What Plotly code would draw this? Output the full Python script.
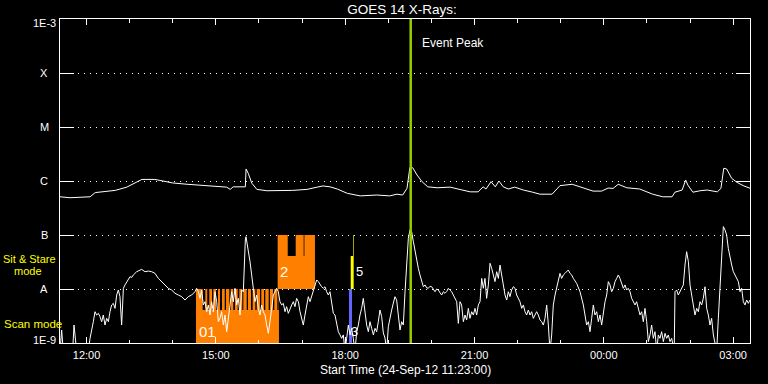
import numpy as np
import pandas as pd
import plotly.graph_objects as go

# ---------------- data ----------------
START = pd.Timestamp("2012-09-24 11:23:00")
END = pd.Timestamp("2012-09-25 03:23:30")
EVENT_PEAK_MIN = 488.2  # minutes after start

# GOES long channel (1-8 A): minutes after start, flux (W/m^2)
long_t = [0, 14, 28, 42, 49, 60, 77, 93, 107, 114, 132, 143, 157, 177, 205, 232, 237, 241, 258, 259,
          262, 267, 274, 288, 324, 344, 358, 366, 376, 386, 400, 418, 441, 459, 469, 477, 483, 486, 487, 491,
          497, 504, 512, 525, 543, 554, 571, 582, 589, 593, 600, 606, 611, 617, 624, 633, 645, 658, 668, 685,
          696, 713, 724, 742, 754, 763, 770, 777, 789, 807, 825, 839, 852, 856, 866, 871, 874, 881, 891, 901,
          915, 920, 924, 928, 935, 942, 951, 961]
long_f = [5.1e-7, 4.9e-7, 5.0e-7, 5.1e-7, 6.1e-7, 6.3e-7, 6.7e-7, 7.7e-7, 9.5e-7, 1.07e-6,
          1.07e-6, 1.0e-6, 9.2e-7, 8.7e-7, 8.1e-7, 7.7e-7, 7.0e-7, 7.8e-7, 7.8e-7, 1.67e-6,
          1.39e-6, 9.1e-7, 7.0e-7, 6.6e-7, 6.7e-7, 7.0e-7, 7.7e-7, 8.1e-7, 7.8e-7, 7.1e-7,
          5.9e-7, 5.3e-7, 5.5e-7, 5.3e-7, 5.7e-7, 5.5e-7, 7.3e-7, 1.72e-6, 1.76e-6, 1.76e-6,
          1.29e-6, 9.7e-7, 7.8e-7, 7.5e-7, 7.7e-7, 7.1e-7, 6.3e-7, 6.3e-7, 7.8e-7, 7.1e-7,
          9.7e-7, 7.8e-7, 1.0e-6, 7.8e-7, 7.1e-7, 7.7e-7, 6.8e-7, 6.2e-7, 5.7e-7, 5.7e-7,
          8.2e-7, 8.7e-7, 7.7e-7, 6.5e-7, 6.5e-7, 7.4e-7, 7.3e-7, 8.7e-7, 7.5e-7, 7.1e-7,
          5.7e-7, 5.1e-7, 5.1e-7, 6.2e-7, 6.8e-7, 1.04e-6, 8.4e-7, 6.2e-7, 6.6e-7, 6.8e-7,
          6.3e-7, 7.3e-7, 1.72e-6, 1.67e-6, 1.12e-6, 9.5e-7, 8.2e-7, 7.3e-7]

# GOES short channel (0.5-4 A): minutes after start, flux (W/m^2)
short_t = [0, 2.3, 4.6, 17.6, 19.5, 21.3, 23.2, 39.4, 41.8, 46.4, 48.7, 51.0, 53.4, 55.7, 58.0, 60.3, 62.6, 65.0,
           67.3, 69.6, 71.9, 74.2, 76.6, 78.9, 81.2, 83.5, 85.8, 87.2, 88.2, 90.5, 92.8, 95.1, 97.4, 99.8, 102.1,
           106.7, 113.7, 118.3, 123.0, 127.6, 132.2, 136.9, 141.5, 146.2, 150.8, 155.4, 160.1, 164.7, 169.4,
           174.0, 178.6, 183.3, 187.9, 190.2, 192.6, 194.9, 197.2, 199.5, 201.8, 204.2, 206.5, 208.8, 211.1,
           213.4, 215.8, 218.1, 220.4, 222.7, 225.0, 227.4, 229.7, 232.0, 234.3, 236.6, 239.0, 241.3, 243.6,
           245.9, 248.2, 250.6, 252.9, 255.2, 256.6, 258.0, 258.9, 260.8, 262.6, 264.5, 266.8, 269.1, 271.4,
           273.8, 276.1, 278.4, 280.7, 283.0, 285.4, 287.7, 290.0, 292.3, 294.6, 297.0, 299.3, 301.6, 303.9,
           306.2, 308.6, 310.9, 313.2, 315.5, 317.8, 320.2, 322.5, 324.8, 327.1, 329.4, 331.8, 334.1, 336.4,
           338.7, 341.0, 343.4, 345.7, 348.0, 350.3, 352.6, 355.0, 357.3, 359.6, 361.9, 364.2, 366.6, 368.9,
           371.2, 373.5, 375.8, 378.2, 380.5, 382.8, 385.1, 387.4, 389.8, 392.1, 394.4, 396.7, 399.0, 401.4,
           403.7, 406.0, 408.3, 410.6, 413.0, 415.3, 417.6, 419.9, 422.2, 424.6, 426.9, 429.2, 431.5, 433.8,
           436.2, 438.5, 440.8, 443.1, 445.4, 447.8, 450.1, 452.4, 454.7, 457.0, 459.4, 461.7, 464.0, 466.3,
           468.6, 471.0, 473.3, 475.6, 477.9, 480.3, 482.6, 484.9, 487.2, 489.5, 491.9, 494.2, 496.5, 498.8,
           501.1, 503.5, 505.8, 508.1, 510.4, 512.7, 515.0, 517.4, 519.7, 522.0, 524.3, 526.7, 529.0, 531.3,
           533.6, 535.9, 538.3, 540.6, 542.9, 545.2, 547.5, 549.9, 552.2, 554.5, 556.8, 559.1, 561.5, 563.8,
           566.1, 568.4, 570.7, 573.1, 575.4, 577.7, 580.0, 582.3, 584.7, 587.0, 589.3, 591.6, 593.9, 596.3,
           598.6, 600.9, 603.2, 605.5, 607.9, 610.2, 612.5, 614.8, 617.1, 619.5, 621.8, 624.1, 626.4, 628.7,
           631.1, 633.4, 635.7, 638.0, 640.3, 642.7, 645.0, 647.3, 649.6, 651.9, 654.3, 656.6, 658.9, 661.2,
           663.5, 665.9, 668.2, 670.5, 672.8, 675.1, 677.5, 679.8, 682.1, 684.4, 686.7, 689.1, 691.4, 693.7,
           696.0, 698.3, 700.7, 703.0, 705.3, 707.6, 709.9, 712.3, 714.6, 719.2, 723.9, 726.2, 728.5, 730.8,
           733.1, 735.5, 737.8, 740.1, 742.4, 744.7, 747.1, 749.4, 751.7, 754.0, 756.3, 758.7, 761.0, 763.3,
           765.6, 767.9, 770.3, 772.6, 774.9, 777.2, 779.5, 781.9, 784.2, 786.5, 788.8, 791.1, 793.5, 795.8,
           798.1, 800.4, 802.7, 805.1, 807.4, 809.7, 812.0, 814.3, 816.7, 819.0, 821.3, 823.6, 825.9, 828.3,
           830.6, 832.9, 835.2, 837.5, 839.9, 842.2, 844.5, 846.8, 849.1, 851.5, 853.8, 855.0, 856.1, 858.4,
           860.7, 863.1, 865.4, 867.7, 870.0, 872.3, 874.7, 877.0, 879.3, 881.6, 883.9, 886.3, 888.6, 890.9,
           893.2, 895.5, 897.9, 900.2, 902.5, 904.8, 907.1, 909.5, 911.8, 914.1, 916.4, 918.7, 921.1, 923.4,
           925.7, 928.0, 930.3, 932.7, 935.0, 937.3, 939.6, 941.9, 944.3, 946.6, 948.9, 951.2, 953.5, 955.9,
           958.2, 960.5]
short_f = [7e-10, 1.74e-9, 7e-10, 7e-10, 2.15e-9, 1.41e-9, 7e-10, 7e-10, 1.22e-9, 2.48e-9, 3.8e-9, 3.3e-9,
           3.54e-9, 3.08e-9, 2.48e-9, 3.3e-9, 2.15e-9, 2.86e-9, 2.48e-9, 3.8e-9, 5.06e-9, 5.42e-9, 4.38e-9,
           7.74e-9, 9.58e-9, 7.21e-9, 2.15e-9, 5.06e-9, 1.03e-8, 1.19e-8, 1.37e-8, 1.47e-8, 1.69e-8, 1.64e-8,
           1.82e-8, 2.09e-8, 2.31e-8, 2.09e-8, 2.15e-8, 2.09e-8, 1.95e-8, 1.57e-8, 1.37e-8, 1.19e-8, 1.03e-8,
           9.58e-9, 8.32e-9, 7.74e-9, 7.21e-9, 6.25e-9, 7.21e-9, 7.74e-9, 8.91e-9, 1.03e-8, 8.91e-9, 6.71e-9,
           9.58e-9, 5.06e-9, 5.82e-9, 3.8e-9, 5.06e-9, 3.3e-9, 5.82e-9, 3.8e-9, 8.91e-9, 5.82e-9, 2.48e-9,
           2.86e-9, 3.8e-9, 2.15e-9, 3.3e-9, 1.62e-9, 2.86e-9, 4.38e-9, 8.91e-9, 5.82e-9, 1.03e-8, 5.06e-9,
           6.71e-9, 3.3e-9, 9.58e-9, 8.91e-9, 3.7e-8, 8.07e-8, 9.31e-8, 6.53e-8, 4.91e-8, 3.21e-8, 1.82e-8,
           8.91e-9, 5.82e-9, 7.74e-9, 4.38e-9, 3.3e-9, 5.06e-9, 3.8e-9, 3.3e-9, 2.15e-9, 1.51e-9, 2.48e-9,
           4.38e-9, 7.74e-9, 8.91e-9, 1.03e-8, 8.91e-9, 5.82e-9, 5.06e-9, 5.42e-9, 3.8e-9, 4.71e-9, 3.54e-9,
           4.38e-9, 5.06e-9, 5.82e-9, 4.71e-9, 6.71e-9, 5.82e-9, 3.8e-9, 2.86e-9, 2.15e-9, 3.3e-9, 5.06e-9,
           7.21e-9, 5.82e-9, 7.21e-9, 8.91e-9, 1.1e-8, 1.47e-8, 1.37e-8, 1.19e-8, 1.1e-8, 1.03e-8, 1.1e-8,
           8.91e-9, 7.74e-9, 8.91e-9, 5.82e-9, 3.54e-9, 3.3e-9, 2.15e-9, 1.62e-9, 1.41e-9, 1.22e-9, 1.41e-9,
           7e-10, 1.22e-9, 2.15e-9, 1.41e-9, 1.87e-9, 1.22e-9, 7e-10, 1.62e-9, 2.15e-9, 3.3e-9, 4.38e-9,
           6.71e-9, 3.8e-9, 2.15e-9, 1.62e-9, 2.48e-9, 1.87e-9, 1.41e-9, 1.87e-9, 1.62e-9, 2.48e-9, 4.08e-9,
           3.07e-9, 1.53e-9, 1.24e-9, 7e-10, 2.0e-9, 3.07e-9, 4.08e-9, 5.5e-9, 7.2e-9, 6.25e-9, 3.6e-9,
           1.74e-9, 2.48e-9, 2.15e-9, 8.91e-9, 3.7e-8, 8.67e-8, 1.24e-7, 1.15e-7, 7.52e-8, 4.91e-8, 3.21e-8,
           2.42e-8, 1.82e-8, 1.37e-8, 1.1e-8, 1.19e-8, 1.05e-8, 1.03e-8, 1.12e-8, 1.1e-8, 9.8e-9, 8.91e-9,
           1.0e-8, 9.58e-9, 8.5e-9, 7.74e-9, 8.9e-9, 8.32e-9, 9.0e-9, 1.03e-8, 9.5e-9, 8.91e-9, 7.74e-9,
           6.71e-9, 5.82e-9, 2.31e-9, 5.82e-9, 5.06e-9, 2.48e-9, 3.3e-9, 2.67e-9, 4.38e-9, 2.86e-9, 3.8e-9,
           3.3e-9, 4.38e-9, 3.3e-9, 5.06e-9, 5.82e-9, 1.57e-8, 1.03e-8, 1.57e-8, 6.71e-9, 1.19e-8, 2.99e-8,
           2.42e-8, 1.82e-8, 1.37e-8, 2.09e-8, 1.57e-8, 2.78e-8, 1.82e-8, 1.03e-8, 7.74e-9, 6.25e-9, 8.91e-9,
           7.21e-9, 9.58e-9, 1.1e-8, 1.03e-8, 7.74e-9, 6.71e-9, 5.82e-9, 4.38e-9, 5.06e-9, 3.8e-9, 3.3e-9,
           4.08e-9, 3.3e-9, 3.8e-9, 2.86e-9, 3.3e-9, 3.8e-9, 3.3e-9, 2.67e-9, 2.48e-9, 2.15e-9, 2.86e-9,
           5.06e-9, 2.15e-9, 7e-10, 1.41e-9, 5.06e-9, 7.74e-9, 1.03e-8, 1.37e-8, 1.95e-8, 1.57e-8, 1.82e-8,
           1.95e-8, 2.09e-8, 2.25e-8, 1.95e-8, 1.82e-8, 1.57e-8, 1.27e-8, 8.91e-9, 6.71e-9, 5.06e-9, 3.3e-9,
           2.15e-9, 2.48e-9, 1.62e-9, 2.86e-9, 5.06e-9, 3.3e-9, 3.8e-9, 2.48e-9, 3.3e-9, 2.15e-9, 3.8e-9,
           5.82e-9, 7.74e-9, 1.37e-8, 1.19e-8, 8.91e-9, 1.03e-8, 1.37e-8, 1.57e-8, 1.82e-8, 1.57e-8, 1.27e-8,
           1.03e-8, 1.19e-8, 9.58e-9, 1.03e-8, 8.91e-9, 6.71e-9, 5.82e-9, 5.06e-9, 5.82e-9, 4.38e-9, 3.3e-9,
           3.8e-9, 2.48e-9, 4.38e-9, 2.48e-9, 1.06e-9, 1.41e-9, 2.15e-9, 1.22e-9, 1.62e-9, 7e-10, 1.41e-9,
           1.22e-9, 1.62e-9, 1.06e-9, 1.51e-9, 1.22e-9, 1.41e-9, 1.06e-9, 1.22e-9, 7e-10, 7e-10, 8.91e-9,
           9.58e-9, 7.74e-9, 8.91e-9, 1.03e-8, 1.19e-8, 2.78e-8, 4.91e-8, 3.21e-8, 1.19e-8, 7.74e-9, 5.06e-9,
           3.3e-9, 4.38e-9, 3.8e-9, 5.82e-9, 5.06e-9, 6.71e-9, 1.1e-8, 4.38e-9, 3.3e-9, 2.15e-9, 2.86e-9,
           1.41e-9, 1.06e-9, 7e-10, 2.86e-9, 1.19e-8, 6.53e-8, 1.43e-7, 1.24e-7, 1.0e-7, 5.66e-8, 3.7e-8,
           2.78e-8, 2.09e-8, 1.82e-8, 1.57e-8, 1.37e-8, 8.91e-9, 1.03e-8, 5.82e-9, 5.06e-9, 6.25e-9, 5.42e-9,
           6.25e-9]

# Observation blocks: (start min, end min, low flux, high flux)
scan01_base = [(189.3, 304.8, 1e-9, 4.1e-9)]
scan01_raster_start = [189.3, 202.3, 207.8, 213.4, 219.9, 225.5, 231.1, 237.6, 243.6, 249.6,
                       255.2, 261.7, 268.2, 273.8, 280.2, 285.8, 292.3, 298.3, 304.4]
scan01_raster_end = [198.6, 205.0, 211.6, 217.2, 222.7, 229.3, 235.7, 241.2, 247.4, 253.8,
                     259.9, 265.9, 271.9, 278.4, 284.0, 290.5, 296.5, 302.5, 304.8]
sit2_blocks = [(303.0, 354.9, 1e-8, 4.1e-8), (303.0, 317.0, 4.1e-8, 1e-7),
               (328.1, 339.2, 4.1e-8, 1e-7), (340.2, 354.9, 4.1e-8, 1e-7)]
scan3_blocks = [(402.3, 406.5, 1e-9, 1e-8)]
sit5_blocks = [(404.7, 408.8, 1e-8, 4.1e-8), (407.9, 408.8, 4.1e-8, 1e-7)]

level_vals = [1e-9, 1e-8, 1e-7, 1e-6, 1e-5, 1e-4, 1e-3]
level_text = ["1E-9", "A", "B", "C", "M", "X", "1E-3"]

FONT = "Liberation Sans"
ORANGE = "#ff8000"
YELLOW = "#ffff00"
BLUE = "#6464ff"
GREEN = "#9acd00"


def tm(m):
    return START + pd.to_timedelta(np.asarray(m, dtype=float), unit="min")


def rect_trace(blocks, color):
    xs, ys = [], []
    for t0, t1, f0, f1 in blocks:
        a, b = tm([t0, t1])
        xs += [a, b, b, a, a, None]
        ys += [f0, f0, f1, f1, f0, None]
    return go.Scatter(x=xs, y=ys, mode="lines", fill="toself", fillcolor=color,
                      line=dict(width=0, color=color), hoverinfo="skip", showlegend=False)


fig = go.Figure()
raster_blocks = [(a, b, 1e-9, 1e-8) for a, b in zip(scan01_raster_start, scan01_raster_end)]
fig.add_trace(rect_trace(scan01_base + raster_blocks, ORANGE))
fig.add_trace(rect_trace(sit2_blocks, ORANGE))
fig.add_trace(rect_trace(scan3_blocks, BLUE))
fig.add_trace(rect_trace(sit5_blocks, YELLOW))

fig.add_trace(go.Scatter(x=tm(short_t), y=short_f, mode="lines",
                         line=dict(color="white", width=1), showlegend=False))
fig.add_trace(go.Scatter(x=tm(long_t), y=long_f, mode="lines",
                         line=dict(color="white", width=1), showlegend=False))

ev = tm([EVENT_PEAK_MIN])[0]
fig.add_trace(go.Scatter(x=[ev, ev], y=[level_vals[0], level_vals[-1]], mode="lines",
                         line=dict(color=GREEN, width=2.5), showlegend=False))

annotations = []
for v, txt in zip(level_vals, level_text):
    if txt.startswith("1E"):
        annotations.append(dict(x=0, xref="paper", y=np.log10(v), yref="y", text=txt,
                                xanchor="right", xshift=-2, yanchor="middle",
                                yshift=(-4 if v == level_vals[-1] else 3), showarrow=False,
                                font=dict(family=FONT, size=11, color="white")))
    else:
        annotations.append(dict(x=0, xref="paper", y=np.log10(v), yref="y", text=txt,
                                xanchor="center", xshift=-16, yanchor="middle", showarrow=False,
                                font=dict(family=FONT, size=11, color="white")))

# block labels
lab_font = dict(family=FONT, size=15, color="white")
annotations += [
    dict(x=tm([scan01_base[0][0]])[0], y=np.log10(1.6e-9), text="01", xanchor="left", xshift=1,
         yanchor="middle", showarrow=False, font=lab_font),
    dict(x=tm([sit2_blocks[0][0]])[0], y=np.log10(2.1e-8), text="2", xanchor="left", xshift=0,
         yanchor="middle", showarrow=False, font=lab_font),
    dict(x=tm([scan3_blocks[0][0]])[0], y=np.log10(1.6e-9), text="3", xanchor="left", xshift=0,
         yanchor="middle", showarrow=False, font=dict(family=FONT, size=13, color="white")),
    dict(x=tm([sit5_blocks[0][1]])[0], y=np.log10(2.1e-8), text="5", xanchor="left", xshift=0,
         yanchor="middle", showarrow=False, font=dict(family=FONT, size=13, color="white")),
    dict(x=ev, y=0.926, yref="paper", text="Event Peak", xanchor="left", xshift=9,
         yanchor="middle", showarrow=False, font=dict(family=FONT, size=12, color="white")),
    dict(x=-0.0841, xref="paper", y=0.2608, yref="paper", text="Sit & Stare", xanchor="left",
         yanchor="middle", showarrow=False, borderpad=0,
         font=dict(family=FONT, size=11, color=YELLOW)),
    dict(x=-0.0686, xref="paper", y=0.2207, yref="paper", text="mode", xanchor="left",
         yanchor="middle", showarrow=False, borderpad=0,
         font=dict(family=FONT, size=11, color=YELLOW)),
    dict(x=-0.0841, xref="paper", y=0.0586, yref="paper", text="Scan mode", xanchor="left",
         yanchor="middle", showarrow=False, font=dict(family=FONT, size=11.5, color=YELLOW)),
    dict(x=0.5, xref="paper", y=-0.0833, yref="paper", text="Start Time (24-Sep-12 11:23:00)",
         xanchor="center", yanchor="middle", showarrow=False, borderpad=0,
         font=dict(family=FONT, size=12, color="white")),
]

fig.update_layout(
    width=768, height=384,
    margin=dict(l=60, r=18, t=19, b=41, pad=0),
    paper_bgcolor="black", plot_bgcolor="black",
    font=dict(family=FONT, size=11, color="white"),
    title=dict(text="GOES 14 X-Rays:", x=0.4957, xref="paper", xanchor="center",
               y=1 - 9 / 384, yref="container", yanchor="middle",
               font=dict(family=FONT, size=13.5, color="white")),
    showlegend=False,
    hovermode=False,
    annotations=annotations,
    xaxis=dict(type="date", range=[START, END], tickformat="%H:%M",
               tick0="2012-09-24 00:00:00", dtick=3 * 3600 * 1000,
               ticks="inside", ticklen=6, tickcolor="white", tickwidth=1,
               minor=dict(dtick=3600 * 1000, ticks="inside", ticklen=3.5, tickcolor="white",
                          showgrid=False),
               showline=True, linecolor="white", linewidth=1, mirror="ticks",
               showgrid=False, zeroline=False, ticklabelstandoff=2,
               tickfont=dict(family=FONT, size=11, color="white")),
    yaxis=dict(type="log", range=[-9, -3], tickvals=level_vals, showticklabels=False,
               ticks="inside", ticklen=14, tickcolor="white", tickwidth=1,
               showline=True, linecolor="white", linewidth=1, mirror="ticks",
               showgrid=True, gridcolor="white", gridwidth=1, griddash="1px,5px",
               zeroline=False),
)

fig.write_html("out.html")
